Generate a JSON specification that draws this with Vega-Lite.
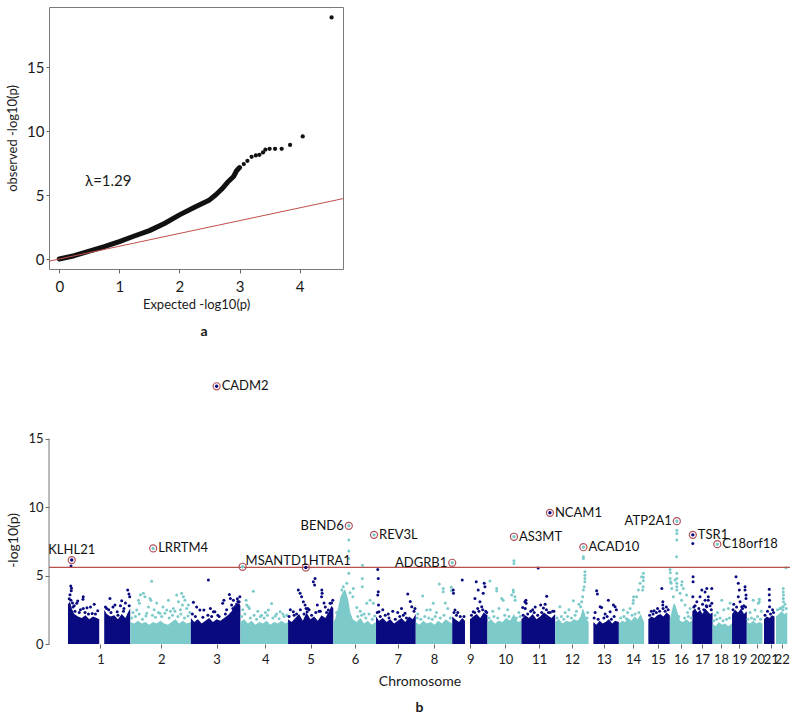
{
  "$schema": "https://vega.github.io/schema/vega-lite/v6.json",
  "padding": {"left": 6, "top": 6, "right": 4, "bottom": 4},
  "background": "white",
  "config": {
    "font": "Lato",
    "view": {"stroke": null},
    "axis": {"labelFont": "Lato", "titleFont": "Lato", "labelColor": "#1a1a1a", "titleColor": "#1a1a1a", "tickColor": "#666", "domainColor": "#666", "grid": false, "titleFontWeight": "normal"},
    "title": {"font": "Lato", "color": "#1a1a1a"},
    "text": {"font": "Lato"}
  },
  "datasets": {
    "qqline": [
      {"e": 0, "o": 0}, {"e": 0.25, "o": 0.26}, {"e": 0.5, "o": 0.62}, {"e": 0.75, "o": 0.96}, {"e": 1, "o": 1.36},
      {"e": 1.25, "o": 1.8}, {"e": 1.5, "o": 2.22}, {"e": 1.75, "o": 2.78}, {"e": 2, "o": 3.45}, {"e": 2.25, "o": 4.05},
      {"e": 2.5, "o": 4.62}, {"e": 2.6, "o": 5.0}, {"e": 2.7, "o": 5.45}, {"e": 2.8, "o": 6.0}, {"e": 2.9, "o": 6.45},
      {"e": 2.95, "o": 6.9}, {"e": 3.0, "o": 7.15}
    ],
    "qqpts": [
      {"e": 3.07, "o": 7.42}, {"e": 3.13, "o": 7.68}, {"e": 3.2, "o": 7.99}, {"e": 3.27, "o": 8.1}, {"e": 3.33, "o": 8.15},
      {"e": 3.39, "o": 8.33}, {"e": 3.43, "o": 8.56}, {"e": 3.5, "o": 8.61}, {"e": 3.59, "o": 8.61}, {"e": 3.7, "o": 8.61},
      {"e": 3.84, "o": 8.92}, {"e": 4.05, "o": 9.58}, {"e": 4.53, "o": 18.88}
    ],
    "qqnull": [{"e": -0.17, "o": -0.17, "e2": 4.72, "o2": 4.72}],
    "qqlab": [{"e": 0.43, "o": 6.1, "label": "λ=1.29"}],
    "band": [
      {"c": 1, "s": "1a", "p": 0, "v": 2.9}, {"c": 1, "s": "1a", "p": 8, "v": 3.1}, {"c": 1, "s": "1a", "p": 15, "v": 2.6}, {"c": 1, "s": "1a", "p": 25, "v": 2.2}, {"c": 1, "s": "1a", "p": 40, "v": 2.0}, {"c": 1, "s": "1a", "p": 55, "v": 1.9}, {"c": 1, "s": "1a", "p": 70, "v": 2.1}, {"c": 1, "s": "1a", "p": 85, "v": 1.8}, {"c": 1, "s": "1a", "p": 100, "v": 2.0}, {"c": 1, "s": "1a", "p": 115, "v": 1.9}, {"c": 1, "s": "1a", "p": 125, "v": 1.8},
      {"c": 1, "s": "1b", "p": 145, "v": 2.5}, {"c": 1, "s": "1b", "p": 155, "v": 2.2}, {"c": 1, "s": "1b", "p": 170, "v": 2.0}, {"c": 1, "s": "1b", "p": 185, "v": 2.1}, {"c": 1, "s": "1b", "p": 200, "v": 1.8}, {"c": 1, "s": "1b", "p": 215, "v": 2.2}, {"c": 1, "s": "1b", "p": 230, "v": 1.9}, {"c": 1, "s": "1b", "p": 240, "v": 2.3}, {"c": 1, "s": "1b", "p": 249, "v": 2.6},
      {"c": 2, "s": "2", "p": 249, "v": 1.6}, {"c": 2, "s": "2", "p": 265, "v": 1.5}, {"c": 2, "s": "2", "p": 280, "v": 1.7}, {"c": 2, "s": "2", "p": 295, "v": 1.5}, {"c": 2, "s": "2", "p": 310, "v": 1.6}, {"c": 2, "s": "2", "p": 325, "v": 1.4}, {"c": 2, "s": "2", "p": 340, "v": 1.6}, {"c": 2, "s": "2", "p": 355, "v": 1.5}, {"c": 2, "s": "2", "p": 370, "v": 1.7}, {"c": 2, "s": "2", "p": 385, "v": 1.5}, {"c": 2, "s": "2", "p": 400, "v": 1.4}, {"c": 2, "s": "2", "p": 415, "v": 1.6}, {"c": 2, "s": "2", "p": 430, "v": 1.8}, {"c": 2, "s": "2", "p": 445, "v": 1.5}, {"c": 2, "s": "2", "p": 460, "v": 1.7}, {"c": 2, "s": "2", "p": 475, "v": 1.5}, {"c": 2, "s": "2", "p": 492, "v": 1.6},
      {"c": 3, "s": "3", "p": 492, "v": 1.9}, {"c": 3, "s": "3", "p": 505, "v": 1.6}, {"c": 3, "s": "3", "p": 520, "v": 1.8}, {"c": 3, "s": "3", "p": 535, "v": 1.5}, {"c": 3, "s": "3", "p": 550, "v": 1.7}, {"c": 3, "s": "3", "p": 565, "v": 1.9}, {"c": 3, "s": "3", "p": 580, "v": 1.6}, {"c": 3, "s": "3", "p": 595, "v": 1.8}, {"c": 3, "s": "3", "p": 610, "v": 1.7}, {"c": 3, "s": "3", "p": 625, "v": 1.9}, {"c": 3, "s": "3", "p": 640, "v": 2.1}, {"c": 3, "s": "3", "p": 655, "v": 2.4}, {"c": 3, "s": "3", "p": 665, "v": 2.7}, {"c": 3, "s": "3", "p": 675, "v": 2.9}, {"c": 3, "s": "3", "p": 685, "v": 3.0}, {"c": 3, "s": "3", "p": 690, "v": 2.8},
      {"c": 4, "s": "4", "p": 690, "v": 1.6}, {"c": 4, "s": "4", "p": 705, "v": 1.8}, {"c": 4, "s": "4", "p": 720, "v": 1.5}, {"c": 4, "s": "4", "p": 735, "v": 1.7}, {"c": 4, "s": "4", "p": 750, "v": 1.4}, {"c": 4, "s": "4", "p": 765, "v": 1.6}, {"c": 4, "s": "4", "p": 780, "v": 1.5}, {"c": 4, "s": "4", "p": 795, "v": 1.7}, {"c": 4, "s": "4", "p": 810, "v": 1.4}, {"c": 4, "s": "4", "p": 825, "v": 1.6}, {"c": 4, "s": "4", "p": 840, "v": 1.5}, {"c": 4, "s": "4", "p": 855, "v": 1.7}, {"c": 4, "s": "4", "p": 870, "v": 1.5}, {"c": 4, "s": "4", "p": 881, "v": 1.6},
      {"c": 5, "s": "5", "p": 881, "v": 1.8}, {"c": 5, "s": "5", "p": 895, "v": 1.6}, {"c": 5, "s": "5", "p": 910, "v": 1.9}, {"c": 5, "s": "5", "p": 925, "v": 2.2}, {"c": 5, "s": "5", "p": 940, "v": 1.7}, {"c": 5, "s": "5", "p": 955, "v": 2.3}, {"c": 5, "s": "5", "p": 970, "v": 1.8}, {"c": 5, "s": "5", "p": 985, "v": 2.0}, {"c": 5, "s": "5", "p": 1000, "v": 1.7}, {"c": 5, "s": "5", "p": 1015, "v": 2.1}, {"c": 5, "s": "5", "p": 1030, "v": 1.9}, {"c": 5, "s": "5", "p": 1045, "v": 2.4}, {"c": 5, "s": "5", "p": 1055, "v": 2.8}, {"c": 5, "s": "5", "p": 1062, "v": 2.6},
      {"c": 6, "s": "6", "p": 1062, "v": 1.6}, {"c": 6, "s": "6", "p": 1069, "v": 1.8}, {"c": 6, "s": "6", "p": 1081, "v": 2.6}, {"c": 6, "s": "6", "p": 1090, "v": 3.4}, {"c": 6, "s": "6", "p": 1100, "v": 3.8}, {"c": 6, "s": "6", "p": 1109, "v": 4.0}, {"c": 6, "s": "6", "p": 1116, "v": 3.6}, {"c": 6, "s": "6", "p": 1122, "v": 3.2}, {"c": 6, "s": "6", "p": 1130, "v": 2.3}, {"c": 6, "s": "6", "p": 1140, "v": 1.8}, {"c": 6, "s": "6", "p": 1155, "v": 1.6}, {"c": 6, "s": "6", "p": 1170, "v": 1.9}, {"c": 6, "s": "6", "p": 1185, "v": 1.5}, {"c": 6, "s": "6", "p": 1200, "v": 1.7}, {"c": 6, "s": "6", "p": 1215, "v": 1.4}, {"c": 6, "s": "6", "p": 1233, "v": 1.6},
      {"c": 7, "s": "7", "p": 1233, "v": 2.0}, {"c": 7, "s": "7", "p": 1245, "v": 1.7}, {"c": 7, "s": "7", "p": 1260, "v": 1.9}, {"c": 7, "s": "7", "p": 1275, "v": 1.6}, {"c": 7, "s": "7", "p": 1290, "v": 1.8}, {"c": 7, "s": "7", "p": 1305, "v": 1.5}, {"c": 7, "s": "7", "p": 1320, "v": 1.7}, {"c": 7, "s": "7", "p": 1335, "v": 1.9}, {"c": 7, "s": "7", "p": 1350, "v": 1.6}, {"c": 7, "s": "7", "p": 1365, "v": 2.0}, {"c": 7, "s": "7", "p": 1380, "v": 1.8}, {"c": 7, "s": "7", "p": 1392, "v": 2.2},
      {"c": 8, "s": "8", "p": 1392, "v": 1.6}, {"c": 8, "s": "8", "p": 1407, "v": 1.4}, {"c": 8, "s": "8", "p": 1422, "v": 1.7}, {"c": 8, "s": "8", "p": 1437, "v": 1.5}, {"c": 8, "s": "8", "p": 1452, "v": 1.6}, {"c": 8, "s": "8", "p": 1467, "v": 1.4}, {"c": 8, "s": "8", "p": 1482, "v": 1.7}, {"c": 8, "s": "8", "p": 1497, "v": 1.5}, {"c": 8, "s": "8", "p": 1512, "v": 1.8}, {"c": 8, "s": "8", "p": 1527, "v": 1.6}, {"c": 8, "s": "8", "p": 1538, "v": 1.5},
      {"c": 9, "s": "9a", "p": 1538, "v": 2.0}, {"c": 9, "s": "9a", "p": 1550, "v": 1.8}, {"c": 9, "s": "9a", "p": 1565, "v": 1.6}, {"c": 9, "s": "9a", "p": 1578, "v": 1.9}, {"c": 9, "s": "9a", "p": 1589, "v": 1.7},
      {"c": 9, "s": "9b", "p": 1609, "v": 1.8}, {"c": 9, "s": "9b", "p": 1622, "v": 2.0}, {"c": 9, "s": "9b", "p": 1636, "v": 2.2}, {"c": 9, "s": "9b", "p": 1650, "v": 1.9}, {"c": 9, "s": "9b", "p": 1664, "v": 2.3}, {"c": 9, "s": "9b", "p": 1679, "v": 2.1},
      {"c": 10, "s": "10", "p": 1679, "v": 1.6}, {"c": 10, "s": "10", "p": 1694, "v": 1.8}, {"c": 10, "s": "10", "p": 1709, "v": 1.5}, {"c": 10, "s": "10", "p": 1724, "v": 1.7}, {"c": 10, "s": "10", "p": 1739, "v": 1.6}, {"c": 10, "s": "10", "p": 1754, "v": 1.9}, {"c": 10, "s": "10", "p": 1769, "v": 1.7}, {"c": 10, "s": "10", "p": 1785, "v": 2.2}, {"c": 10, "s": "10", "p": 1800, "v": 1.6}, {"c": 10, "s": "10", "p": 1815, "v": 1.7},
      {"c": 11, "s": "11", "p": 1815, "v": 1.8}, {"c": 11, "s": "11", "p": 1830, "v": 2.1}, {"c": 11, "s": "11", "p": 1845, "v": 1.9}, {"c": 11, "s": "11", "p": 1860, "v": 2.2}, {"c": 11, "s": "11", "p": 1875, "v": 1.8}, {"c": 11, "s": "11", "p": 1890, "v": 2.0}, {"c": 11, "s": "11", "p": 1905, "v": 2.3}, {"c": 11, "s": "11", "p": 1920, "v": 2.1}, {"c": 11, "s": "11", "p": 1935, "v": 1.9}, {"c": 11, "s": "11", "p": 1950, "v": 2.2},
      {"c": 12, "s": "12", "p": 1950, "v": 1.6}, {"c": 12, "s": "12", "p": 1965, "v": 1.8}, {"c": 12, "s": "12", "p": 1980, "v": 1.5}, {"c": 12, "s": "12", "p": 1995, "v": 1.7}, {"c": 12, "s": "12", "p": 2010, "v": 1.6}, {"c": 12, "s": "12", "p": 2025, "v": 1.8}, {"c": 12, "s": "12", "p": 2040, "v": 1.7}, {"c": 12, "s": "12", "p": 2052, "v": 2.0}, {"c": 12, "s": "12", "p": 2060, "v": 2.6}, {"c": 12, "s": "12", "p": 2066, "v": 2.4}, {"c": 12, "s": "12", "p": 2075, "v": 1.8}, {"c": 12, "s": "12", "p": 2084, "v": 1.6},
      {"c": 13, "s": "13", "p": 2103, "v": 1.6}, {"c": 13, "s": "13", "p": 2115, "v": 1.4}, {"c": 13, "s": "13", "p": 2128, "v": 1.7}, {"c": 13, "s": "13", "p": 2140, "v": 1.5}, {"c": 13, "s": "13", "p": 2152, "v": 1.6}, {"c": 13, "s": "13", "p": 2165, "v": 1.8}, {"c": 13, "s": "13", "p": 2178, "v": 1.5}, {"c": 13, "s": "13", "p": 2190, "v": 1.7}, {"c": 13, "s": "13", "p": 2205, "v": 1.6},
      {"c": 14, "s": "14", "p": 2205, "v": 1.5}, {"c": 14, "s": "14", "p": 2218, "v": 1.7}, {"c": 14, "s": "14", "p": 2230, "v": 1.6}, {"c": 14, "s": "14", "p": 2242, "v": 1.9}, {"c": 14, "s": "14", "p": 2255, "v": 1.7}, {"c": 14, "s": "14", "p": 2268, "v": 2.0}, {"c": 14, "s": "14", "p": 2280, "v": 1.8}, {"c": 14, "s": "14", "p": 2292, "v": 2.2}, {"c": 14, "s": "14", "p": 2306, "v": 1.6},
      {"c": 15, "s": "15", "p": 2323, "v": 1.8}, {"c": 15, "s": "15", "p": 2335, "v": 2.0}, {"c": 15, "s": "15", "p": 2347, "v": 1.9}, {"c": 15, "s": "15", "p": 2359, "v": 2.1}, {"c": 15, "s": "15", "p": 2371, "v": 2.2}, {"c": 15, "s": "15", "p": 2383, "v": 2.0}, {"c": 15, "s": "15", "p": 2396, "v": 2.3}, {"c": 15, "s": "15", "p": 2409, "v": 2.1},
      {"c": 16, "s": "16", "p": 2409, "v": 1.8}, {"c": 16, "s": "16", "p": 2418, "v": 2.5}, {"c": 16, "s": "16", "p": 2425, "v": 3.0}, {"c": 16, "s": "16", "p": 2432, "v": 2.8}, {"c": 16, "s": "16", "p": 2440, "v": 2.3}, {"c": 16, "s": "16", "p": 2450, "v": 1.7}, {"c": 16, "s": "16", "p": 2462, "v": 1.6}, {"c": 16, "s": "16", "p": 2475, "v": 1.8}, {"c": 16, "s": "16", "p": 2487, "v": 1.6}, {"c": 16, "s": "16", "p": 2499, "v": 1.7},
      {"c": 17, "s": "17", "p": 2499, "v": 2.4}, {"c": 17, "s": "17", "p": 2510, "v": 2.6}, {"c": 17, "s": "17", "p": 2520, "v": 2.3}, {"c": 17, "s": "17", "p": 2530, "v": 2.5}, {"c": 17, "s": "17", "p": 2540, "v": 2.2}, {"c": 17, "s": "17", "p": 2550, "v": 2.6}, {"c": 17, "s": "17", "p": 2560, "v": 2.4}, {"c": 17, "s": "17", "p": 2570, "v": 2.2}, {"c": 17, "s": "17", "p": 2580, "v": 2.3},
      {"c": 18, "s": "18", "p": 2580, "v": 1.5}, {"c": 18, "s": "18", "p": 2592, "v": 1.3}, {"c": 18, "s": "18", "p": 2605, "v": 1.6}, {"c": 18, "s": "18", "p": 2618, "v": 1.4}, {"c": 18, "s": "18", "p": 2630, "v": 1.5}, {"c": 18, "s": "18", "p": 2643, "v": 1.3}, {"c": 18, "s": "18", "p": 2658, "v": 1.5},
      {"c": 19, "s": "19", "p": 2658, "v": 2.2}, {"c": 19, "s": "19", "p": 2670, "v": 2.5}, {"c": 19, "s": "19", "p": 2682, "v": 2.3}, {"c": 19, "s": "19", "p": 2694, "v": 2.6}, {"c": 19, "s": "19", "p": 2706, "v": 2.2}, {"c": 19, "s": "19", "p": 2717, "v": 2.4},
      {"c": 20, "s": "20", "p": 2717, "v": 1.6}, {"c": 20, "s": "20", "p": 2730, "v": 1.5}, {"c": 20, "s": "20", "p": 2743, "v": 1.7}, {"c": 20, "s": "20", "p": 2755, "v": 1.5}, {"c": 20, "s": "20", "p": 2768, "v": 1.6}, {"c": 20, "s": "20", "p": 2780, "v": 1.5},
      {"c": 21, "s": "21", "p": 2786, "v": 1.8}, {"c": 21, "s": "21", "p": 2797, "v": 2.0}, {"c": 21, "s": "21", "p": 2808, "v": 1.9}, {"c": 21, "s": "21", "p": 2818, "v": 2.1}, {"c": 21, "s": "21", "p": 2828, "v": 2.0},
      {"c": 22, "s": "22", "p": 2834, "v": 2.0}, {"c": 22, "s": "22", "p": 2845, "v": 2.2}, {"c": 22, "s": "22", "p": 2856, "v": 2.4}, {"c": 22, "s": "22", "p": 2867, "v": 2.2}, {"c": 22, "s": "22", "p": 2879, "v": 2.3}
    ],
    "snps": [
      {"c": 1, "p": 12, "v": 5.69}, {"c": 1, "p": 11, "v": 4.23}, {"c": 1, "p": 14, "v": 4.07}, {"c": 1, "p": 13, "v": 3.89}, {"c": 1, "p": 61, "v": 3.45}, {"c": 1, "p": 60, "v": 3.26}, {"c": 1, "p": 39, "v": 3.14}, {"c": 1, "p": 12, "v": 3.2}, {"c": 1, "p": 35, "v": 2.97}, {"c": 1, "p": 76, "v": 2.65}, {"c": 1, "p": 119, "v": 2.43}, {"c": 1, "p": 97, "v": 2.23}, {"c": 1, "p": 61, "v": 2.6}, {"c": 1, "p": 155, "v": 2.6}, {"c": 1, "p": 168, "v": 3.33}, {"c": 1, "p": 188, "v": 2.84}, {"c": 1, "p": 215, "v": 3.16}, {"c": 1, "p": 239, "v": 3.94}, {"c": 1, "p": 244, "v": 3.65}, {"c": 1, "p": 224, "v": 2.6}, {"c": 1, "p": 197, "v": 2.36}, {"c": 1, "p": 247, "v": 3.45}, {"c": 1, "p": 163, "v": 2.5}, {"c": 1, "p": 25, "v": 2.8}, {"c": 1, "p": 50, "v": 2.5}, {"c": 1, "p": 90, "v": 2.7}, {"c": 1, "p": 105, "v": 2.9}, {"c": 1, "p": 180, "v": 2.7}, {"c": 1, "p": 230, "v": 3.0}, {"c": 1, "p": 8, "v": 3.6}, {"c": 1, "p": 18, "v": 3.0}, {"c": 1, "p": 210, "v": 2.8},
      {"c": 1, "p": 5, "v": 3.3}, {"c": 1, "p": 20, "v": 2.7}, {"c": 1, "p": 28, "v": 2.4}, {"c": 1, "p": 45, "v": 2.3}, {"c": 1, "p": 68, "v": 2.3}, {"c": 1, "p": 82, "v": 2.2}, {"c": 1, "p": 110, "v": 2.2}, {"c": 1, "p": 150, "v": 2.7}, {"c": 1, "p": 172, "v": 2.3}, {"c": 1, "p": 200, "v": 2.1}, {"c": 1, "p": 222, "v": 2.4}, {"c": 1, "p": 245, "v": 2.8},
      {"c": 2, "p": 335, "v": 4.58}, {"c": 2, "p": 302, "v": 3.7}, {"c": 2, "p": 308, "v": 3.45}, {"c": 2, "p": 286, "v": 2.97}, {"c": 2, "p": 332, "v": 3.2}, {"c": 2, "p": 455, "v": 3.7}, {"c": 2, "p": 462, "v": 3.45}, {"c": 2, "p": 442, "v": 3.09}, {"c": 2, "p": 458, "v": 2.84}, {"c": 2, "p": 290, "v": 3.6}, {"c": 2, "p": 282, "v": 3.2}, {"c": 2, "p": 328, "v": 3.33}, {"c": 2, "p": 355, "v": 3.0}, {"c": 2, "p": 402, "v": 3.2}, {"c": 2, "p": 435, "v": 3.57}, {"c": 2, "p": 468, "v": 3.2}, {"c": 2, "p": 395, "v": 2.48}, {"c": 2, "p": 368, "v": 2.24}, {"c": 2, "p": 482, "v": 2.84}, {"c": 2, "p": 275, "v": 2.48}, {"c": 2, "p": 315, "v": 2.24}, {"c": 2, "p": 422, "v": 2.6}, {"c": 2, "p": 260, "v": 2.3}, {"c": 2, "p": 345, "v": 2.5}, {"c": 2, "p": 380, "v": 2.7}, {"c": 2, "p": 410, "v": 2.4}, {"c": 2, "p": 450, "v": 2.5}, {"c": 2, "p": 475, "v": 2.6},
      {"c": 2, "p": 255, "v": 1.9}, {"c": 2, "p": 270, "v": 2.0}, {"c": 2, "p": 285, "v": 2.2}, {"c": 2, "p": 298, "v": 1.8}, {"c": 2, "p": 312, "v": 2.05}, {"c": 2, "p": 322, "v": 2.7}, {"c": 2, "p": 338, "v": 2.1}, {"c": 2, "p": 350, "v": 1.95}, {"c": 2, "p": 362, "v": 2.3}, {"c": 2, "p": 375, "v": 2.0}, {"c": 2, "p": 388, "v": 2.25}, {"c": 2, "p": 405, "v": 1.9}, {"c": 2, "p": 418, "v": 2.1}, {"c": 2, "p": 428, "v": 2.4}, {"c": 2, "p": 440, "v": 2.0}, {"c": 2, "p": 452, "v": 2.2}, {"c": 2, "p": 466, "v": 1.9}, {"c": 2, "p": 480, "v": 2.05}, {"c": 2, "p": 488, "v": 2.3},
      {"c": 3, "p": 562, "v": 4.67}, {"c": 3, "p": 502, "v": 3.05}, {"c": 3, "p": 528, "v": 2.48}, {"c": 3, "p": 582, "v": 2.36}, {"c": 3, "p": 600, "v": 2.1}, {"c": 3, "p": 619, "v": 2.97}, {"c": 3, "p": 624, "v": 3.2}, {"c": 3, "p": 646, "v": 3.62}, {"c": 3, "p": 650, "v": 3.33}, {"c": 3, "p": 655, "v": 2.84}, {"c": 3, "p": 662, "v": 3.2}, {"c": 3, "p": 668, "v": 2.72}, {"c": 3, "p": 678, "v": 3.3}, {"c": 3, "p": 685, "v": 3.09}, {"c": 3, "p": 688, "v": 3.45}, {"c": 3, "p": 588, "v": 2.36}, {"c": 3, "p": 544, "v": 2.48}, {"c": 3, "p": 515, "v": 2.7}, {"c": 3, "p": 570, "v": 2.6}, {"c": 3, "p": 635, "v": 2.5}, {"c": 3, "p": 675, "v": 2.9},
      {"c": 3, "p": 498, "v": 2.2}, {"c": 3, "p": 510, "v": 2.0}, {"c": 3, "p": 540, "v": 1.95}, {"c": 3, "p": 560, "v": 2.1}, {"c": 3, "p": 575, "v": 2.0}, {"c": 3, "p": 605, "v": 2.0}, {"c": 3, "p": 630, "v": 2.2}, {"c": 3, "p": 660, "v": 2.6}, {"c": 3, "p": 680, "v": 3.1},
      {"c": 4, "p": 742, "v": 3.85}, {"c": 4, "p": 715, "v": 2.84}, {"c": 4, "p": 713, "v": 3.2}, {"c": 4, "p": 726, "v": 2.6}, {"c": 4, "p": 722, "v": 2.72}, {"c": 4, "p": 775, "v": 2.1}, {"c": 4, "p": 815, "v": 2.95}, {"c": 4, "p": 802, "v": 2.48}, {"c": 4, "p": 835, "v": 2.2}, {"c": 4, "p": 849, "v": 2.36}, {"c": 4, "p": 876, "v": 2.1}, {"c": 4, "p": 760, "v": 2.4}, {"c": 4, "p": 790, "v": 2.3}, {"c": 4, "p": 700, "v": 2.5}, {"c": 4, "p": 860, "v": 2.2},
      {"c": 4, "p": 695, "v": 2.0}, {"c": 4, "p": 708, "v": 2.2}, {"c": 4, "p": 730, "v": 1.9}, {"c": 4, "p": 745, "v": 2.1}, {"c": 4, "p": 755, "v": 1.8}, {"c": 4, "p": 770, "v": 2.0}, {"c": 4, "p": 785, "v": 1.9}, {"c": 4, "p": 798, "v": 2.1}, {"c": 4, "p": 820, "v": 1.9}, {"c": 4, "p": 830, "v": 2.05}, {"c": 4, "p": 845, "v": 1.85}, {"c": 4, "p": 865, "v": 2.0},
      {"c": 5, "p": 922, "v": 3.94}, {"c": 5, "p": 929, "v": 3.7}, {"c": 5, "p": 935, "v": 3.45}, {"c": 5, "p": 942, "v": 3.09}, {"c": 5, "p": 949, "v": 2.84}, {"c": 5, "p": 953, "v": 2.6}, {"c": 5, "p": 957, "v": 2.36}, {"c": 5, "p": 989, "v": 4.79}, {"c": 5, "p": 982, "v": 4.55}, {"c": 5, "p": 987, "v": 4.3}, {"c": 5, "p": 1016, "v": 3.94}, {"c": 5, "p": 1017, "v": 3.7}, {"c": 5, "p": 1015, "v": 3.45}, {"c": 5, "p": 998, "v": 2.84}, {"c": 5, "p": 1042, "v": 2.48}, {"c": 5, "p": 1049, "v": 2.97}, {"c": 5, "p": 1060, "v": 3.2}, {"c": 5, "p": 902, "v": 2.36}, {"c": 5, "p": 915, "v": 2.2}, {"c": 5, "p": 965, "v": 2.5}, {"c": 5, "p": 1005, "v": 2.4}, {"c": 5, "p": 1030, "v": 2.7}, {"c": 5, "p": 890, "v": 2.5}, {"c": 5, "p": 1025, "v": 3.0},
      {"c": 5, "p": 885, "v": 2.0}, {"c": 5, "p": 905, "v": 2.1}, {"c": 5, "p": 930, "v": 2.5}, {"c": 5, "p": 945, "v": 2.2}, {"c": 5, "p": 960, "v": 2.6}, {"c": 5, "p": 975, "v": 2.1}, {"c": 5, "p": 992, "v": 2.3}, {"c": 5, "p": 1010, "v": 2.4}, {"c": 5, "p": 1035, "v": 2.3}, {"c": 5, "p": 1055, "v": 3.0},
      {"c": 6, "p": 1124, "v": 7.59}, {"c": 6, "p": 1124, "v": 6.8}, {"c": 6, "p": 1124, "v": 6.25}, {"c": 6, "p": 1124, "v": 5.16}, {"c": 6, "p": 1179, "v": 5.76}, {"c": 6, "p": 1178, "v": 4.79}, {"c": 6, "p": 1178, "v": 4.18}, {"c": 6, "p": 1096, "v": 3.94}, {"c": 6, "p": 1102, "v": 4.18}, {"c": 6, "p": 1116, "v": 4.43}, {"c": 6, "p": 1142, "v": 4.06}, {"c": 6, "p": 1140, "v": 3.45}, {"c": 6, "p": 1156, "v": 2.66}, {"c": 6, "p": 1196, "v": 2.97}, {"c": 6, "p": 1209, "v": 3.2}, {"c": 6, "p": 1222, "v": 2.97}, {"c": 6, "p": 1129, "v": 3.74}, {"c": 6, "p": 1170, "v": 2.4}, {"c": 6, "p": 1075, "v": 2.3}, {"c": 6, "p": 1185, "v": 2.2},
      {"c": 6, "p": 1160, "v": 2.0}, {"c": 6, "p": 1175, "v": 2.1}, {"c": 6, "p": 1192, "v": 1.9}, {"c": 6, "p": 1205, "v": 2.2}, {"c": 6, "p": 1218, "v": 1.8}, {"c": 6, "p": 1228, "v": 2.05},
      {"c": 7, "p": 1240, "v": 5.45}, {"c": 7, "p": 1242, "v": 4.79}, {"c": 7, "p": 1242, "v": 3.82}, {"c": 7, "p": 1240, "v": 3.57}, {"c": 7, "p": 1243, "v": 2.84}, {"c": 7, "p": 1245, "v": 2.36}, {"c": 7, "p": 1360, "v": 3.65}, {"c": 7, "p": 1376, "v": 2.72}, {"c": 7, "p": 1389, "v": 2.6}, {"c": 7, "p": 1349, "v": 2.24}, {"c": 7, "p": 1282, "v": 2.2}, {"c": 7, "p": 1300, "v": 2.4}, {"c": 7, "p": 1320, "v": 2.3}, {"c": 7, "p": 1335, "v": 2.6}, {"c": 7, "p": 1260, "v": 2.5}, {"c": 7, "p": 1370, "v": 3.1},
      {"c": 7, "p": 1238, "v": 2.3}, {"c": 7, "p": 1250, "v": 2.0}, {"c": 7, "p": 1270, "v": 2.1}, {"c": 7, "p": 1285, "v": 1.9}, {"c": 7, "p": 1310, "v": 1.8}, {"c": 7, "p": 1328, "v": 2.0}, {"c": 7, "p": 1342, "v": 2.1}, {"c": 7, "p": 1355, "v": 1.9}, {"c": 7, "p": 1385, "v": 2.4},
      {"c": 8, "p": 1486, "v": 4.38}, {"c": 8, "p": 1502, "v": 4.06}, {"c": 8, "p": 1502, "v": 3.82}, {"c": 8, "p": 1534, "v": 4.14}, {"c": 8, "p": 1535, "v": 3.89}, {"c": 8, "p": 1420, "v": 3.5}, {"c": 8, "p": 1462, "v": 2.97}, {"c": 8, "p": 1436, "v": 2.48}, {"c": 8, "p": 1475, "v": 2.3}, {"c": 8, "p": 1400, "v": 2.2}, {"c": 8, "p": 1450, "v": 2.5}, {"c": 8, "p": 1520, "v": 2.6}, {"c": 8, "p": 1510, "v": 3.0},
      {"c": 8, "p": 1398, "v": 1.9}, {"c": 8, "p": 1412, "v": 1.8}, {"c": 8, "p": 1428, "v": 2.0}, {"c": 8, "p": 1444, "v": 1.9}, {"c": 8, "p": 1458, "v": 1.8}, {"c": 8, "p": 1470, "v": 2.0}, {"c": 8, "p": 1490, "v": 1.9}, {"c": 8, "p": 1505, "v": 2.1}, {"c": 8, "p": 1530, "v": 1.9},
      {"c": 9, "p": 1578, "v": 4.67}, {"c": 9, "p": 1542, "v": 3.94}, {"c": 9, "p": 1543, "v": 3.7}, {"c": 9, "p": 1549, "v": 2.48}, {"c": 9, "p": 1634, "v": 4.55}, {"c": 9, "p": 1642, "v": 3.94}, {"c": 9, "p": 1662, "v": 3.7}, {"c": 9, "p": 1666, "v": 4.43}, {"c": 9, "p": 1669, "v": 4.18}, {"c": 9, "p": 1629, "v": 3.33}, {"c": 9, "p": 1649, "v": 3.09}, {"c": 9, "p": 1656, "v": 2.72}, {"c": 9, "p": 1622, "v": 2.36}, {"c": 9, "p": 1676, "v": 2.3}, {"c": 9, "p": 1560, "v": 2.3}, {"c": 9, "p": 1640, "v": 2.6},
      {"c": 9, "p": 1545, "v": 2.3}, {"c": 9, "p": 1555, "v": 2.1}, {"c": 9, "p": 1570, "v": 2.0}, {"c": 9, "p": 1585, "v": 2.0}, {"c": 9, "p": 1615, "v": 2.1}, {"c": 9, "p": 1628, "v": 2.3}, {"c": 9, "p": 1645, "v": 2.4}, {"c": 9, "p": 1660, "v": 2.5}, {"c": 9, "p": 1672, "v": 2.4},
      {"c": 10, "p": 1689, "v": 4.6}, {"c": 10, "p": 1716, "v": 4.06}, {"c": 10, "p": 1716, "v": 3.87}, {"c": 10, "p": 1742, "v": 3.2}, {"c": 10, "p": 1782, "v": 3.94}, {"c": 10, "p": 1783, "v": 3.8}, {"c": 10, "p": 1789, "v": 3.45}, {"c": 10, "p": 1790, "v": 3.2}, {"c": 10, "p": 1785, "v": 6.08}, {"c": 10, "p": 1785, "v": 5.88}, {"c": 10, "p": 1736, "v": 3.33}, {"c": 10, "p": 1776, "v": 3.57}, {"c": 10, "p": 1700, "v": 2.4}, {"c": 10, "p": 1760, "v": 2.5}, {"c": 10, "p": 1805, "v": 2.3}, {"c": 10, "p": 1725, "v": 2.6},
      {"c": 10, "p": 1685, "v": 1.9}, {"c": 10, "p": 1705, "v": 2.0}, {"c": 10, "p": 1720, "v": 1.9}, {"c": 10, "p": 1748, "v": 2.1}, {"c": 10, "p": 1765, "v": 2.0}, {"c": 10, "p": 1795, "v": 1.9}, {"c": 10, "p": 1810, "v": 2.0},
      {"c": 11, "p": 1882, "v": 5.55}, {"c": 11, "p": 1916, "v": 3.48}, {"c": 11, "p": 1833, "v": 3.2}, {"c": 11, "p": 1834, "v": 2.97}, {"c": 11, "p": 1829, "v": 3.09}, {"c": 11, "p": 1830, "v": 2.6}, {"c": 11, "p": 1892, "v": 2.84}, {"c": 11, "p": 1903, "v": 2.63}, {"c": 11, "p": 1923, "v": 2.3}, {"c": 11, "p": 1940, "v": 2.4}, {"c": 11, "p": 1860, "v": 2.5}, {"c": 11, "p": 1820, "v": 2.67}, {"c": 11, "p": 1870, "v": 2.7}, {"c": 11, "p": 1910, "v": 2.9},
      {"c": 11, "p": 1822, "v": 2.1}, {"c": 11, "p": 1840, "v": 2.2}, {"c": 11, "p": 1852, "v": 2.4}, {"c": 11, "p": 1866, "v": 2.3}, {"c": 11, "p": 1880, "v": 2.1}, {"c": 11, "p": 1896, "v": 2.3}, {"c": 11, "p": 1915, "v": 2.5}, {"c": 11, "p": 1930, "v": 2.3}, {"c": 11, "p": 1945, "v": 2.4},
      {"c": 12, "p": 2063, "v": 6.37}, {"c": 12, "p": 2063, "v": 6.25}, {"c": 12, "p": 2069, "v": 5.27}, {"c": 12, "p": 2069, "v": 5.03}, {"c": 12, "p": 2069, "v": 4.79}, {"c": 12, "p": 2069, "v": 4.55}, {"c": 12, "p": 2066, "v": 4.18}, {"c": 12, "p": 2063, "v": 3.94}, {"c": 12, "p": 2060, "v": 3.45}, {"c": 12, "p": 2056, "v": 3.09}, {"c": 12, "p": 2052, "v": 2.72}, {"c": 12, "p": 2023, "v": 3.15}, {"c": 12, "p": 1969, "v": 2.72}, {"c": 12, "p": 1990, "v": 2.3}, {"c": 12, "p": 2005, "v": 2.5}, {"c": 12, "p": 2035, "v": 2.4}, {"c": 12, "p": 2080, "v": 2.3}, {"c": 12, "p": 2045, "v": 2.9},
      {"c": 12, "p": 1958, "v": 1.9}, {"c": 12, "p": 1975, "v": 2.0}, {"c": 12, "p": 1985, "v": 1.8}, {"c": 12, "p": 2000, "v": 2.0}, {"c": 12, "p": 2015, "v": 1.9}, {"c": 12, "p": 2030, "v": 2.1}, {"c": 12, "p": 2078, "v": 1.9},
      {"c": 13, "p": 2116, "v": 3.89}, {"c": 13, "p": 2119, "v": 3.65}, {"c": 13, "p": 2163, "v": 3.2}, {"c": 13, "p": 2136, "v": 2.66}, {"c": 13, "p": 2130, "v": 2.72}, {"c": 13, "p": 2170, "v": 2.36}, {"c": 13, "p": 2190, "v": 2.72}, {"c": 13, "p": 2183, "v": 2.84}, {"c": 13, "p": 2110, "v": 2.3}, {"c": 13, "p": 2150, "v": 2.2}, {"c": 13, "p": 2195, "v": 2.5},
      {"c": 13, "p": 2106, "v": 1.9}, {"c": 13, "p": 2122, "v": 1.8}, {"c": 13, "p": 2145, "v": 1.9}, {"c": 13, "p": 2158, "v": 2.0}, {"c": 13, "p": 2175, "v": 1.8}, {"c": 13, "p": 2186, "v": 2.0},
      {"c": 14, "p": 2223, "v": 2.48}, {"c": 14, "p": 2263, "v": 3.2}, {"c": 14, "p": 2264, "v": 3.45}, {"c": 14, "p": 2262, "v": 2.97}, {"c": 14, "p": 2290, "v": 4.43}, {"c": 14, "p": 2296, "v": 4.91}, {"c": 14, "p": 2303, "v": 5.16}, {"c": 14, "p": 2303, "v": 4.87}, {"c": 14, "p": 2303, "v": 4.62}, {"c": 14, "p": 2302, "v": 4.18}, {"c": 14, "p": 2283, "v": 3.94}, {"c": 14, "p": 2276, "v": 3.45}, {"c": 14, "p": 2300, "v": 3.94}, {"c": 14, "p": 2240, "v": 2.3}, {"c": 14, "p": 2250, "v": 2.6},
      {"c": 14, "p": 2212, "v": 1.9}, {"c": 14, "p": 2225, "v": 2.0}, {"c": 14, "p": 2235, "v": 1.85}, {"c": 14, "p": 2258, "v": 2.1}, {"c": 14, "p": 2270, "v": 2.2}, {"c": 14, "p": 2285, "v": 2.3},
      {"c": 15, "p": 2377, "v": 4.06}, {"c": 15, "p": 2381, "v": 3.09}, {"c": 15, "p": 2381, "v": 2.84}, {"c": 15, "p": 2382, "v": 2.6}, {"c": 15, "p": 2346, "v": 2.43}, {"c": 15, "p": 2360, "v": 2.6}, {"c": 15, "p": 2395, "v": 2.7}, {"c": 15, "p": 2335, "v": 2.4},
      {"c": 15, "p": 2328, "v": 2.1}, {"c": 15, "p": 2342, "v": 2.2}, {"c": 15, "p": 2355, "v": 2.3}, {"c": 15, "p": 2368, "v": 2.4}, {"c": 15, "p": 2390, "v": 2.4}, {"c": 15, "p": 2402, "v": 2.5},
      {"c": 16, "p": 2437, "v": 8.3}, {"c": 16, "p": 2437, "v": 8.07}, {"c": 16, "p": 2437, "v": 7.59}, {"c": 16, "p": 2436, "v": 6.37}, {"c": 16, "p": 2437, "v": 5.16}, {"c": 16, "p": 2437, "v": 4.79}, {"c": 16, "p": 2437, "v": 4.43}, {"c": 16, "p": 2437, "v": 4.18}, {"c": 16, "p": 2437, "v": 3.94}, {"c": 16, "p": 2410, "v": 5.45}, {"c": 16, "p": 2411, "v": 5.2}, {"c": 16, "p": 2410, "v": 4.79}, {"c": 16, "p": 2412, "v": 4.55}, {"c": 16, "p": 2414, "v": 4.43}, {"c": 16, "p": 2430, "v": 4.67}, {"c": 16, "p": 2458, "v": 4.55}, {"c": 16, "p": 2456, "v": 4.3}, {"c": 16, "p": 2463, "v": 4.06}, {"c": 16, "p": 2450, "v": 3.7}, {"c": 16, "p": 2417, "v": 4.06}, {"c": 16, "p": 2423, "v": 3.45}, {"c": 16, "p": 2456, "v": 3.2}, {"c": 16, "p": 2470, "v": 2.84}, {"c": 16, "p": 2476, "v": 3.57}, {"c": 16, "p": 2490, "v": 2.6}, {"c": 16, "p": 2480, "v": 2.3},
      {"c": 16, "p": 2445, "v": 2.0}, {"c": 16, "p": 2468, "v": 1.9}, {"c": 16, "p": 2483, "v": 2.0}, {"c": 16, "p": 2495, "v": 1.9},
      {"c": 17, "p": 2501, "v": 7.34}, {"c": 17, "p": 2502, "v": 4.91}, {"c": 17, "p": 2502, "v": 4.55}, {"c": 17, "p": 2537, "v": 3.94}, {"c": 17, "p": 2557, "v": 4.06}, {"c": 17, "p": 2577, "v": 4.06}, {"c": 17, "p": 2563, "v": 3.45}, {"c": 17, "p": 2563, "v": 3.2}, {"c": 17, "p": 2530, "v": 3.45}, {"c": 17, "p": 2517, "v": 3.09}, {"c": 17, "p": 2550, "v": 3.8}, {"c": 17, "p": 2550, "v": 3.2}, {"c": 17, "p": 2577, "v": 2.97}, {"c": 17, "p": 2557, "v": 2.72}, {"c": 17, "p": 2501, "v": 3.45}, {"c": 17, "p": 2510, "v": 2.8}, {"c": 17, "p": 2540, "v": 2.9}, {"c": 17, "p": 2570, "v": 2.8},
      {"c": 17, "p": 2505, "v": 2.7}, {"c": 17, "p": 2525, "v": 2.6}, {"c": 17, "p": 2545, "v": 2.5}, {"c": 17, "p": 2555, "v": 2.8}, {"c": 17, "p": 2575, "v": 2.5},
      {"c": 18, "p": 2617, "v": 3.2}, {"c": 18, "p": 2643, "v": 2.6}, {"c": 18, "p": 2600, "v": 2.3}, {"c": 18, "p": 2625, "v": 2.5}, {"c": 18, "p": 2590, "v": 2.1}, {"c": 18, "p": 2650, "v": 3.0},
      {"c": 18, "p": 2585, "v": 1.7}, {"c": 18, "p": 2597, "v": 1.8}, {"c": 18, "p": 2610, "v": 1.9}, {"c": 18, "p": 2622, "v": 1.7}, {"c": 18, "p": 2636, "v": 1.8}, {"c": 18, "p": 2648, "v": 1.9},
      {"c": 19, "p": 2674, "v": 4.91}, {"c": 19, "p": 2683, "v": 4.43}, {"c": 19, "p": 2687, "v": 3.94}, {"c": 19, "p": 2710, "v": 4.18}, {"c": 19, "p": 2710, "v": 3.94}, {"c": 19, "p": 2714, "v": 3.57}, {"c": 19, "p": 2714, "v": 3.33}, {"c": 19, "p": 2683, "v": 3.45}, {"c": 19, "p": 2690, "v": 3.09}, {"c": 19, "p": 2697, "v": 2.72}, {"c": 19, "p": 2665, "v": 2.9}, {"c": 19, "p": 2705, "v": 2.8},
      {"c": 19, "p": 2662, "v": 2.5}, {"c": 19, "p": 2676, "v": 2.7}, {"c": 19, "p": 2700, "v": 2.6}, {"c": 19, "p": 2712, "v": 2.7},
      {"c": 20, "p": 2743, "v": 3.2}, {"c": 20, "p": 2763, "v": 2.97}, {"c": 20, "p": 2767, "v": 3.26}, {"c": 20, "p": 2767, "v": 3.09}, {"c": 20, "p": 2750, "v": 2.48}, {"c": 20, "p": 2730, "v": 2.3}, {"c": 20, "p": 2775, "v": 2.4},
      {"c": 20, "p": 2722, "v": 1.8}, {"c": 20, "p": 2736, "v": 1.9}, {"c": 20, "p": 2748, "v": 1.8}, {"c": 20, "p": 2760, "v": 2.0}, {"c": 20, "p": 2772, "v": 1.8},
      {"c": 21, "p": 2807, "v": 3.99}, {"c": 21, "p": 2807, "v": 3.6}, {"c": 21, "p": 2808, "v": 3.2}, {"c": 21, "p": 2808, "v": 2.72}, {"c": 21, "p": 2800, "v": 2.4}, {"c": 21, "p": 2820, "v": 2.5},
      {"c": 21, "p": 2790, "v": 2.1}, {"c": 21, "p": 2812, "v": 2.2}, {"c": 21, "p": 2824, "v": 2.3},
      {"c": 22, "p": 2863, "v": 4.06}, {"c": 22, "p": 2863, "v": 3.8}, {"c": 22, "p": 2864, "v": 3.57}, {"c": 22, "p": 2863, "v": 3.33}, {"c": 22, "p": 2864, "v": 3.09}, {"c": 22, "p": 2863, "v": 2.72}, {"c": 22, "p": 2862, "v": 2.48}, {"c": 22, "p": 2874, "v": 5.57}, {"c": 22, "p": 2850, "v": 2.6}, {"c": 22, "p": 2870, "v": 2.9},
      {"c": 22, "p": 2840, "v": 2.5}, {"c": 22, "p": 2852, "v": 2.6}, {"c": 22, "p": 2860, "v": 2.7}, {"c": 22, "p": 2875, "v": 2.6}
    ],
    "hits": [
      {"gene": "KLHL21", "c": 1, "p": 15, "v": 6.13},
      {"gene": "LRRTM4", "c": 2, "p": 341, "v": 6.98},
      {"gene": "CADM2", "c": 3, "p": 595, "v": 18.82},
      {"gene": "MSANTD1", "c": 4, "p": 699, "v": 5.64},
      {"gene": "HTRA1", "c": 5, "p": 952, "v": 5.59},
      {"gene": "BEND6", "c": 6, "p": 1124, "v": 8.63},
      {"gene": "REV3L", "c": 6, "p": 1225, "v": 7.97},
      {"gene": "ADGRB1", "c": 8, "p": 1538, "v": 5.93},
      {"gene": "AS3MT", "c": 10, "p": 1785, "v": 7.83},
      {"gene": "NCAM1", "c": 11, "p": 1929, "v": 9.58},
      {"gene": "ACAD10", "c": 12, "p": 2063, "v": 7.07},
      {"gene": "ATP2A1", "c": 16, "p": 2437, "v": 8.97},
      {"gene": "TSR1", "c": 17, "p": 2501, "v": 7.97},
      {"gene": "C18orf18", "c": 18, "p": 2599, "v": 7.29}
    ],
    "sig": [{"v": 5.6}],
    "yline": [{"v": 0, "v2": 15}]
  },
  "spacing": 37,
  "vconcat": [
    {
      "width": 294,
      "height": 262,
      "view": {"stroke": "#7a7a7a", "strokeWidth": 1},
      "title": {"text": "a", "orient": "bottom", "fontSize": 14, "fontWeight": "bold", "offset": 14, "dx": 8},
      "encoding": {
        "x": {"field": "e", "type": "quantitative", "scale": {"domain": [-0.17, 4.72], "nice": false, "zero": false},
              "axis": {"title": "Expected -log10(p)", "values": [0, 1, 2, 3, 4], "domain": false, "tickSize": 4, "labelFontSize": 15, "titleFontSize": 13, "labelPadding": 6, "titlePadding": 4, "labelFlush": false}},
        "y": {"field": "o", "type": "quantitative", "scale": {"domain": [-0.78, 19.7], "nice": false, "zero": false},
              "axis": {"title": "observed -log10(p)", "values": [0, 5, 10, 15], "domain": false, "tickSize": 3, "labelFontSize": 15, "titleFontSize": 13, "labelPadding": 2, "titlePadding": 7, "labelFlush": false}}
      },
      "layer": [
        {"data": {"name": "qqline"}, "mark": {"type": "line", "color": "#111", "strokeWidth": 5, "strokeCap": "round", "strokeJoin": "round"}},
        {"data": {"name": "qqpts"}, "mark": {"type": "circle", "color": "#111", "size": 18, "opacity": 1}},
        {"data": {"name": "qqnull"}, "mark": {"type": "rule", "color": "#c0504d", "strokeWidth": 1}, "encoding": {"x2": {"field": "e2"}, "y2": {"field": "o2"}}},
        {"data": {"name": "qqlab"}, "mark": {"type": "text", "align": "left", "baseline": "middle", "fontSize": 15, "color": "#1a1a1a"}, "encoding": {"text": {"field": "label"}}}
      ]
    },
    {
      "width": 741,
      "height": 267,
      "title": {"text": "b", "orient": "bottom", "fontSize": 14, "fontWeight": "bold", "offset": 13},
      "resolve": {"axis": {"x": "independent"}},
      "layer": [
        {
          "layer": [
            {
              "data": {"name": "band"},
              "mark": {"type": "area", "interpolate": "linear", "opacity": 1},
              "encoding": {
                "x": {"field": "p", "type": "quantitative", "scale": {"domain": [-76, 2890], "nice": false, "zero": false},
                      "axis": {"orient": "bottom", "title": "Chromosome", "values": [130, 595, 971, 1320, 1610, 1886, 2145, 2362, 2538, 2687, 2813],
                               "labelExpr": "indexof([130, 373, 595, 790, 971, 1149, 1320, 1465, 1610, 1750, 1886, 2017, 2145, 2262, 2362, 2454, 2538, 2614, 2687, 2758, 2813, 2857], datum.value) + 1",
                               "domain": false, "tickSize": 4, "labelFontSize": 13, "titleFontSize": 14, "labelPadding": 5, "titlePadding": 8, "labelOverlap": false, "labelFlush": false, "labelBound": false}},
                "y": {"field": "v", "type": "quantitative", "stack": null, "scale": {"domain": [0, 19.5], "nice": false},
                      "axis": {"title": "-log10(p)", "values": [0, 5, 10, 15], "domain": false, "tickSize": 4, "labelFontSize": 13, "titleFontSize": 14, "labelPadding": 2, "titlePadding": 7, "titleY": 163}},
                "color": {"field": "c", "type": "nominal", "legend": null,
                          "scale": {"domain": [1, 2, 3, 4, 5, 6, 7, 8, 9, 10, 11, 12, 13, 14, 15, 16, 17, 18, 19, 20, 21, 22],
                                    "range": ["#0a0a80", "#7ccaca", "#0a0a80", "#7ccaca", "#0a0a80", "#7ccaca", "#0a0a80", "#7ccaca", "#0a0a80", "#7ccaca", "#0a0a80", "#7ccaca", "#0a0a80", "#7ccaca", "#0a0a80", "#7ccaca", "#0a0a80", "#7ccaca", "#0a0a80", "#7ccaca", "#0a0a80", "#7ccaca"]}},
                "detail": {"field": "s", "type": "nominal"}
              }
            },
            {
              "data": {"name": "snps"},
              "mark": {"type": "circle", "size": 9, "opacity": 1},
              "encoding": {
                "x": {"field": "p", "type": "quantitative"},
                "y": {"field": "v", "type": "quantitative"},
                "color": {"field": "c", "type": "nominal", "legend": null}
              }
            },
            {
              "data": {"name": "sig"},
              "mark": {"type": "rule", "color": "#b5524c", "strokeWidth": 1.2},
              "encoding": {"y": {"field": "v", "type": "quantitative"}}
            },
            {
              "data": {"name": "yline"},
              "mark": {"type": "rule", "color": "#777", "strokeWidth": 1},
              "encoding": {"x": {"datum": -76}, "y": {"field": "v", "type": "quantitative"}, "y2": {"field": "v2"}}
            },
            {
              "data": {"name": "hits"},
              "mark": {"type": "circle", "size": 12, "opacity": 1},
              "encoding": {
                "x": {"field": "p", "type": "quantitative"},
                "y": {"field": "v", "type": "quantitative"},
                "color": {"field": "c", "type": "nominal", "legend": null}
              }
            },
            {
              "data": {"name": "hits"},
              "mark": {"type": "point", "shape": "circle", "filled": false, "size": 50, "stroke": "#b0505a", "strokeWidth": 1.2, "opacity": 1},
              "encoding": {
                "x": {"field": "p", "type": "quantitative"},
                "y": {"field": "v", "type": "quantitative"}
              }
            },
            {
              "data": {"name": "hits"},
              "transform": [{"filter": {"field": "gene", "oneOf": ["LRRTM4", "CADM2", "REV3L", "AS3MT", "NCAM1", "ACAD10", "TSR1", "C18orf18"]}}],
              "mark": {"type": "text", "align": "left", "baseline": "middle", "dx": 5, "fontSize": 13, "color": "#111"},
              "encoding": {"x": {"field": "p", "type": "quantitative"}, "y": {"field": "v", "type": "quantitative"}, "text": {"field": "gene"}}
            },
            {
              "data": {"name": "hits"},
              "transform": [{"filter": {"field": "gene", "oneOf": ["BEND6", "ADGRB1", "ATP2A1"]}}],
              "mark": {"type": "text", "align": "right", "baseline": "middle", "dx": -5, "fontSize": 13, "color": "#111"},
              "encoding": {"x": {"field": "p", "type": "quantitative"}, "y": {"field": "v", "type": "quantitative"}, "text": {"field": "gene"}}
            },
            {
              "data": {"name": "hits"},
              "transform": [{"filter": {"field": "gene", "oneOf": ["KLHL21"]}}],
              "mark": {"type": "text", "align": "center", "baseline": "bottom", "dy": -3, "fontSize": 13, "color": "#111"},
              "encoding": {"x": {"field": "p", "type": "quantitative"}, "y": {"field": "v", "type": "quantitative"}, "text": {"field": "gene"}}
            },
            {
              "data": {"name": "hits"},
              "transform": [{"filter": {"field": "gene", "oneOf": ["MSANTD1", "HTRA1"]}}],
              "mark": {"type": "text", "align": "left", "baseline": "middle", "dx": 3, "dy": -6, "fontSize": 13, "color": "#111"},
              "encoding": {"x": {"field": "p", "type": "quantitative"}, "y": {"field": "v", "type": "quantitative"}, "text": {"field": "gene"}}
            }
          ]
        },
        {
          "data": {"name": "band"},
          "mark": {"type": "point", "opacity": 0},
          "encoding": {
            "x": {"field": "p", "type": "quantitative",
                  "axis": {"orient": "bottom", "title": null, "values": [373, 790, 1149, 1465, 1750, 2017, 2262, 2454, 2614, 2758, 2857],
                           "labelExpr": "indexof([130, 373, 595, 790, 971, 1149, 1320, 1465, 1610, 1750, 1886, 2017, 2145, 2262, 2362, 2454, 2538, 2614, 2687, 2758, 2813, 2857], datum.value) + 1",
                           "domain": false, "tickSize": 4, "labelFontSize": 13, "labelPadding": 5, "labelOverlap": false, "labelFlush": false, "labelBound": false}},
            "y": {"field": "v", "type": "quantitative"}
          }
        }
      ]
    }
  ]
}
